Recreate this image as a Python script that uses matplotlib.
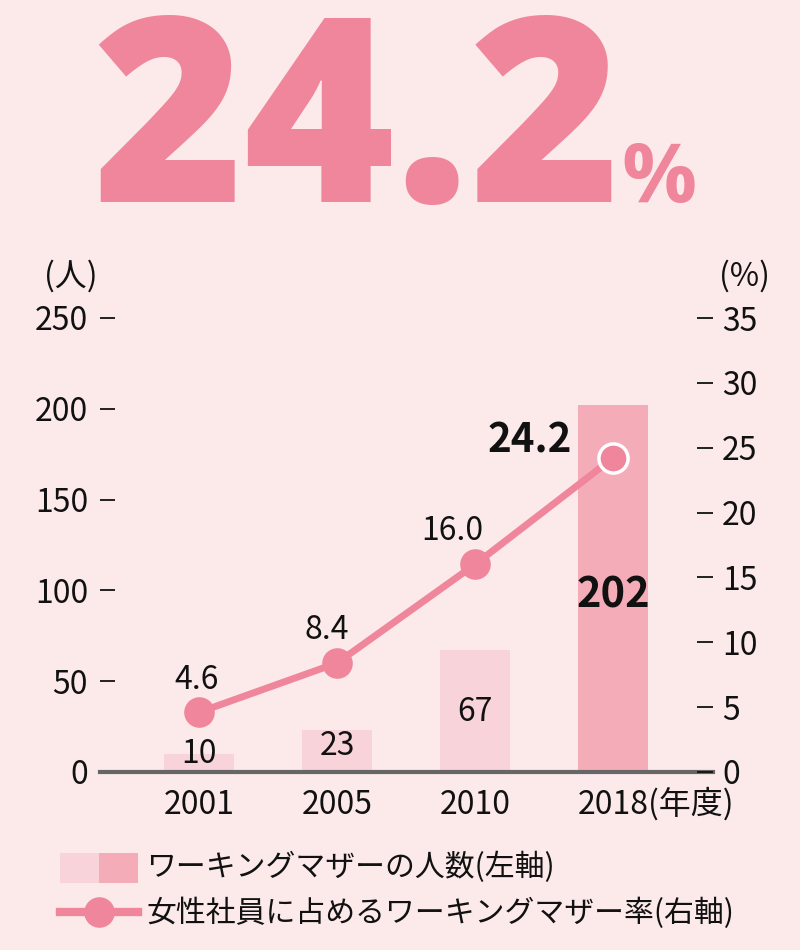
import matplotlib
matplotlib.use("Agg")
import matplotlib.pyplot as plt
from matplotlib.patches import Rectangle
from matplotlib.lines import Line2D

# --- datos ---
years = ["2001", "2005", "2010", "2018"]
mothers = [10, 23, 67, 202]          # ワーキングマザーの人数（左軸）
ratio = [4.6, 8.4, 16.0, 24.2]       # 女性社員に占めるワーキングマザー率（右軸）
ratio_labels = ["4.6", "8.4", "16.0", "24.2"]
headline = "24.2"

# posiciones de las etiquetas (barras: unidades eje izq.; línea: desplazamiento en pt)
bar_label_y = [9.9, 14.3, 33, 97]
ratio_label_dx = [-1.5, -7, -16.5, -60]
ratio_label_dy = [23, 23.5, 24, 12]

BG = "#fce9ea"
PINK = "#ef869c"
BAR_LIGHT = "#f9d3da"
BAR_DARK = "#f4adb8"
TXT = "#111111"
FS = 23

plt.rcParams['font.family'] = ['Noto Sans CJK JP', 'DejaVu Sans']

W, H = 800, 950
fig = plt.figure(figsize=(W / 100, H / 100), dpi=100, facecolor=BG)


def fx(px):
    return px / W


def fy(py):
    return 1 - py / H


# --- titular grande ---
fig.text(fx(92), fy(202), headline, fontsize=186, fontweight=800, family='Open Sans',
         color=PINK, ha='left', va='baseline')
fig.text(fx(621), fy(202), "%", fontsize=60, fontweight='bold', family='Open Sans',
         color=PINK, ha='left', va='baseline')

# --- ejes ---
ax = fig.add_axes([fx(100), fy(772), (713 - 100) / W, (772 - 318) / H])
ax.set_facecolor(BG)
ax2 = ax.twinx()

x = list(range(len(years)))
colors = [BAR_LIGHT] * (len(years) - 1) + [BAR_DARK]
ax.bar(x, mothers, width=0.507, color=colors, zorder=1)
ax.set_xlim(-0.717, 3.725)
ax.set_ylim(0, 250)
ax2.set_ylim(0, 35)

for s in ["top", "left", "right", "bottom"]:
    ax.spines[s].set_visible(False)
    ax2.spines[s].set_visible(False)
ax.axhline(0, color="#666666", lw=3, zorder=6, clip_on=False)

ax.set_yticks([0, 50, 100, 150, 200, 250])
ax.tick_params(axis='y', direction='in', length=10.8, width=1.3, color=TXT,
               pad=8.6, labelsize=FS, labelcolor=TXT)
ax2.set_yticks([0, 5, 10, 15, 20, 25, 30, 35])
ax2.tick_params(axis='y', direction='in', length=11.5, width=1.3, color=TXT,
                pad=6.5, labelsize=FS, labelcolor=TXT)
ax.set_xticks(x)
ax.set_xticklabels(years)
ax.tick_params(axis='x', length=0, pad=12, labelsize=FS, labelcolor=TXT)
ax.annotate("(年度)", xy=(1, 0), xycoords=ax.get_xticklabels()[-1],
            fontsize=FS, color=TXT, ha='left', va='bottom')

# etiquetas de barras
for i, (v, ly) in enumerate(zip(mothers, bar_label_y)):
    last = i == len(mothers) - 1
    ax.text(i, ly, str(v), ha='center', va='center', color=TXT,
            fontsize=30 if last else FS, fontweight='bold' if last else 'normal')

# línea de porcentaje
ax2.plot(x, ratio, color=PINK, lw=5, zorder=3, solid_capstyle='round')
ax2.plot(x[:-1], ratio[:-1], 'o', color=PINK, ms=21, zorder=4)
ax2.plot(x[-1:], ratio[-1:], 'o', color=PINK, ms=21, mec='white', mew=2.5, zorder=4)
for i, (v, lab) in enumerate(zip(ratio, ratio_labels)):
    last = i == len(ratio) - 1
    ax2.annotate(lab, (i, v), xytext=(ratio_label_dx[i], ratio_label_dy[i]),
                 textcoords='offset points', ha='center', va='center', color=TXT,
                 fontsize=29 if last else FS, fontweight='bold' if last else 'normal')

# unidades
fig.text(fx(71), fy(276), "(人)", fontsize=FS, color=TXT, ha='center', va='center')
fig.text(fx(744), fy(276), "(%)", fontsize=FS, color=TXT, ha='center', va='center')

# --- leyenda manual ---
fig.add_artist(Rectangle((fx(60), fy(883)), fx(39), (883 - 853) / H,
                         transform=fig.transFigure, color=BAR_LIGHT, lw=0))
fig.add_artist(Rectangle((fx(99), fy(883)), fx(39), (883 - 853) / H,
                         transform=fig.transFigure, color=BAR_DARK, lw=0))
fig.text(fx(146), fy(867), "ワーキングマザーの人数(左軸)", fontsize=21.5, color=TXT,
         ha='left', va='center')
fig.add_artist(Line2D([fx(60), fx(138)], [fy(912), fy(912)], transform=fig.transFigure,
                      color=PINK, lw=6))
fig.add_artist(Line2D([fx(99)], [fy(912)], transform=fig.transFigure, marker='o',
                      color=PINK, ms=21))
fig.text(fx(146), fy(913), "女性社員に占めるワーキングマザー率(右軸)", fontsize=21.5,
         color=TXT, ha='left', va='center')

fig.savefig("out.png", dpi=100, facecolor=BG)
